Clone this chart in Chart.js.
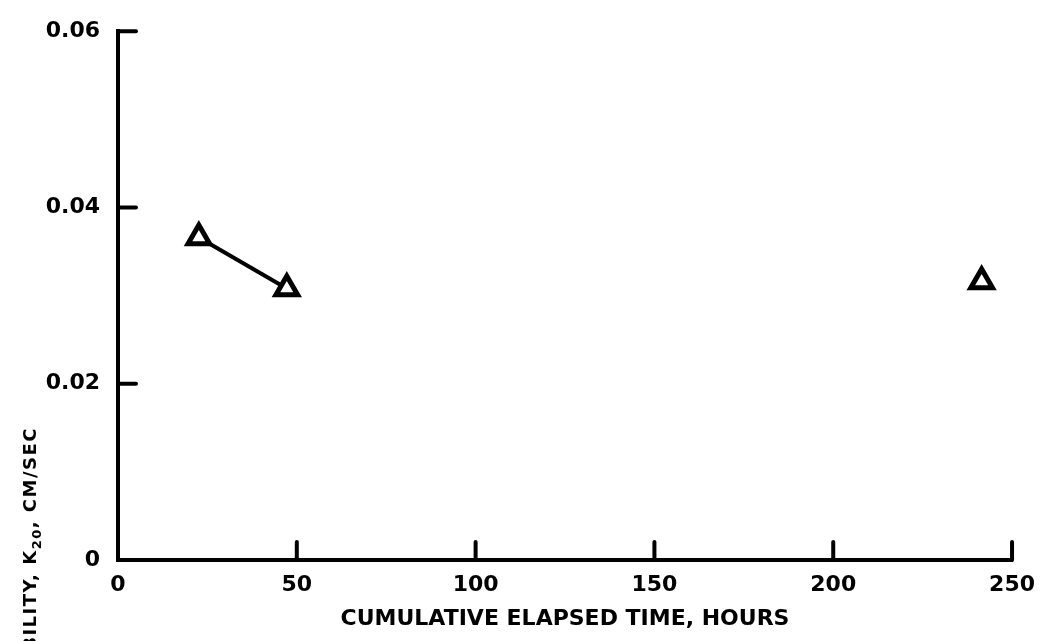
<!DOCTYPE html>
<html>
<head>
<meta charset="utf-8">
<script src="https://cdn.jsdelivr.net/npm/chart.js@4/dist/chart.umd.min.js"></script>
<style>
  html, body { margin: 0; padding: 0; background: #fff; }
  #wrap { width: 1047px; height: 641px; }
</style>
</head>
<body>
<div id="wrap"><canvas id="grafico" width="1047" height="641"></canvas></div>
<script>
// valores
const run1Hours = [22.6, 47.2];
const run1K20 = [0.0366, 0.0308];
const run2Hours = [241.5];
const run2K20 = [0.0316];
const xTicks = [0, 50, 100, 150, 200, 250];
const yTicks = [0, 0.02, 0.04, 0.06];
const xTitle = "CUMULATIVE ELAPSED TIME, HOURS";
const yTitleParts = ["PERMEABILITY, K", "20", ", CM/SEC"];

const FONT = "'DejaVu Sans', sans-serif";

function toPoints(xs, ys) {
  return xs.map((x, i) => ({ x: x, y: ys[i] }));
}

// ticks para dentro + titulo do eixo y com subscrito
const eixosPlugin = {
  id: "eixos",
  afterDraw(chart) {
    const ctx = chart.ctx;
    const area = chart.chartArea;
    const sx = chart.scales.x;
    const sy = chart.scales.y;
    const len = 18;
    ctx.save();
    ctx.strokeStyle = "#000";
    ctx.lineWidth = 4;
    ctx.lineCap = "round";
    xTicks.slice(1).forEach((v) => {
      let px = sx.getPixelForValue(v);
      ctx.beginPath();
      ctx.moveTo(px, area.bottom);
      ctx.lineTo(px, area.bottom - len);
      ctx.stroke();
    });
    yTicks.slice(1).forEach((v) => {
      let py = sy.getPixelForValue(v);
      ctx.beginPath();
      ctx.moveTo(area.left, py);
      ctx.lineTo(area.left + len, py);
      ctx.stroke();
    });

    // titulo y (cortado pela borda, como no original)
    const big = "bold 18px " + FONT;
    const small = "bold 13px " + FONT;
    ctx.translate(31, 427);
    ctx.rotate(-Math.PI / 2);
    ctx.fillStyle = "#000";
    ctx.textBaseline = "middle";
    ctx.textAlign = "left";
    ctx.letterSpacing = "1.5px";
    ctx.font = big;
    let w1 = ctx.measureText(yTitleParts[0]).width;
    let w3 = ctx.measureText(yTitleParts[2]).width;
    ctx.font = small;
    let w2 = ctx.measureText(yTitleParts[1]).width;
    let x0 = -(w1 + w2 + w3);
    ctx.font = big;
    ctx.fillText(yTitleParts[0], x0, 0);
    ctx.font = small;
    ctx.fillText(yTitleParts[1], x0 + w1, 7);
    ctx.font = big;
    ctx.fillText(yTitleParts[2], x0 + w1 + w2, 0);
    ctx.restore();
  },
};

const ctx = document.getElementById("grafico").getContext("2d");

new Chart(ctx, {
  type: "scatter",
  data: {
    datasets: [
      {
        data: toPoints(run1Hours, run1K20),
        showLine: true,
        borderColor: "#000",
        borderWidth: 4,
        backgroundColor: "#fff",
        pointStyle: "triangle",
        pointRadius: 12.5,
        pointBorderWidth: 5,
        pointBorderColor: "#000",
        pointBackgroundColor: "#fff",
      },
      {
        data: toPoints(run2Hours, run2K20),
        showLine: false,
        pointStyle: "triangle",
        pointRadius: 12.5,
        pointBorderWidth: 5,
        pointBorderColor: "#000",
        pointBackgroundColor: "#fff",
      },
    ],
  },
  options: {
    responsive: false,
    animation: false,
    devicePixelRatio: 1,
    layout: { padding: { top: 27, right: 31, left: 0, bottom: 0 } },
    plugins: {
      legend: { display: false },
      tooltip: { enabled: false },
    },
    scales: {
      x: {
        type: "linear",
        min: 0,
        max: 250,
        afterBuildTicks: (s) => { s.ticks = xTicks.map((v) => ({ value: v })); },
        afterFit: (s) => { s.height = 81; },
        grid: { display: true, drawOnChartArea: false, drawTicks: false, color: "rgba(0,0,0,0)" },
        border: { display: true, color: "#000", width: 4 },
        ticks: {
          padding: 12,
          color: "#000",
          font: { family: FONT, size: 22, weight: "bold" },
          callback: (v) => String(v),
        },
        title: {
          display: true,
          text: xTitle,
          color: "#000",
          font: { family: FONT, size: 22, weight: "bold" },
          padding: { top: 0, bottom: 9 },
        },
      },
      y: {
        type: "linear",
        min: 0,
        max: 0.06,
        afterBuildTicks: (s) => { s.ticks = yTicks.map((v) => ({ value: v })); },
        afterFit: (s) => { s.width = 118; },
        grid: { display: true, drawOnChartArea: false, drawTicks: false, color: "rgba(0,0,0,0)" },
        border: { display: true, color: "#000", width: 4 },
        ticks: {
          padding: 18,
          color: "#000",
          font: { family: FONT, size: 22, weight: "bold" },
          callback: (v) => (v === 0 ? "0" : v.toFixed(2)),
        },
      },
    },
  },
  plugins: [eixosPlugin],
});
</script>
</body>
</html>
